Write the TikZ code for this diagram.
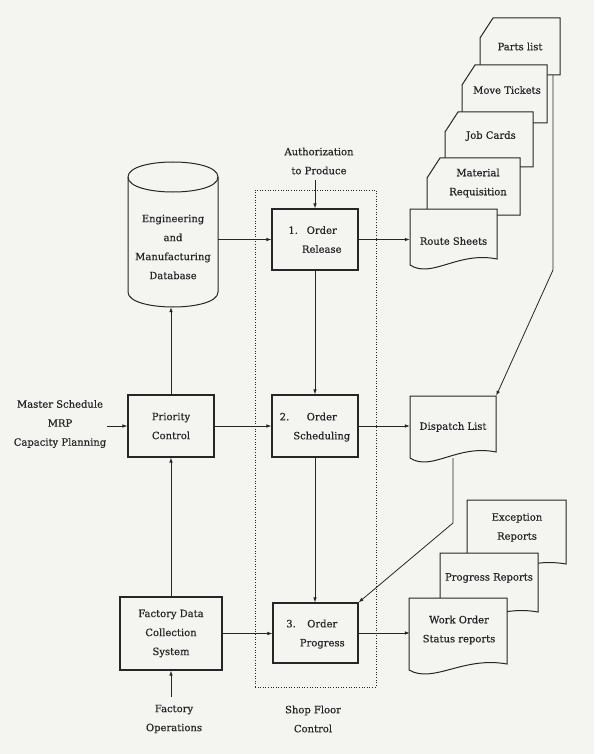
\documentclass[tikz,border=0pt]{standalone}
\usepackage{fontspec}
\setmainfont{DejaVu Serif}[FakeBold=0.5]
\usetikzlibrary{arrows.meta}
\definecolor{bg}{HTML}{F4F4F1}
\definecolor{ink}{HTML}{262626}
\newcommand\mydoc[4]{\path[shapeline] (#1,#2) -- (#3,#2) -- (#3,{#4-6}) .. controls ({#1+0.55*(#3-#1)},{#4-14}) and ({#1+0.25*(#3-#1)},{#4+14}) .. (#1,#4) -- cycle;}
\newcommand\mycard[4]{\path[shapeline] (#1,{#2+20}) -- ({#1+13},#2) -- (#3,#2) -- (#3,#4) -- (#1,#4) -- cycle;}
\newcommand\numtext[3]{#1\hspace{4pt}\begin{tabular}[t]{@{}c@{}}#2\\#3\end{tabular}}
\begin{document}
\begin{tikzpicture}[x=1pt,y=-1pt,
  every node/.style={font=\fontsize{10}{19}\selectfont, text=ink, inner sep=0pt, align=center},
  box/.style={draw=ink, line width=1.1pt, fill=bg, minimum width=86pt, minimum height=62pt},
  txt/.style={draw=none},
  shapeline/.style={draw=ink, line width=1pt, fill=bg},
  frame/.style={draw=ink, line width=0.8pt, dash pattern=on 1pt off 1.6pt, minimum width=121pt, minimum height=497pt},
  conn/.style={draw=ink, line width=0.8pt, -{Latex[length=5pt,width=3.6pt]}}
]
\fill[bg] (0,0) rectangle (594,754);
\useasboundingbox (0,0) rectangle (594,754);

% shop floor control frame
\node[frame] (sfc) at (315.5,438.5) {};

% database cylinder
\path[shapeline] (128,177) -- (128,292) .. controls (128,312) and (218,312) .. (218,292) -- (218,177) .. controls (218,157) and (128,157) .. cycle;
\draw[ink, line width=1pt] (128,177) .. controls (128,197) and (218,197) .. (218,177);
\node[txt, minimum width=90pt, minimum height=120pt] (db) at (173,247) {Engineering\\and\\Manufacturing\\Database};

% main boxes
\node[box, minimum height=61pt] (rel) at (315,239.5) {\numtext{1.}{Order}{Release}};
\node[box] (sch) at (315,426) {\numtext{2.}{Order}{Scheduling}};
\node[box, minimum width=85pt, minimum height=60pt] (prog) at (315.5,633) {\numtext{3.}{Order}{Progress}};
\node[box] (pri) at (171,426) {Priority\\Control};
\node[box, minimum width=102pt, minimum height=73pt] (fdc) at (171,633.5) {Factory Data\\Collection\\System};

% outside labels
\node[txt] (auth) at (319,161) {Authorization\\to Produce};
\node[txt] (ms) at (60,424) {Master Schedule\\MRP\\Capacity Planning};
\node[txt] (fops) at (174,719) {Factory\\Operations};
\node[txt] (sfcl) at (313,719) {Shop Floor\\Control};

% card stack
\mycard{480}{18}{560}{75}
\mycard{462}{65}{547}{123}
\mycard{445}{112}{533}{167}
\mycard{427}{158}{520}{215}
\mydoc{410}{209}{497}{265}
\node[txt, minimum width=80pt, minimum height=57pt] (parts) at (520,46.5) {Parts list};
\node[txt, minimum width=85pt, minimum height=58pt] (move) at (507,90) {Move Tickets};
\node[txt, minimum width=88pt, minimum height=55pt] (job) at (491,136) {Job Cards};
\node[txt, minimum width=93pt, minimum height=55pt] (mat) at (478,183) {Material\\Requisition};
\node[txt, minimum width=87pt, minimum height=54pt] (route) at (453.5,241) {Route Sheets};

% dispatch list
\mydoc{410}{396}{496}{458}
\node[txt, minimum width=86pt, minimum height=62pt] (disp) at (453,427) {Dispatch List};

% report stack
\mydoc{467}{500}{566}{570}
\mydoc{440}{553}{538}{618}
\mydoc{409}{598}{507}{670}
\node[txt, minimum width=99pt, minimum height=56pt] (exc) at (517,527.5) {Exception\\Reports};
\node[txt, minimum width=98pt, minimum height=50pt] (progr) at (489,578) {Progress Reports};
\node[txt, minimum width=98pt, minimum height=72pt] (wo) at (459,630) {Work Order\\Status reports};

% bend points
\coordinate (b1) at (553,270);
\coordinate (b2) at (453,523);

% connectors
\draw[conn] (db.east |- rel.west) -- (rel.west);
\draw[conn, shorten <=5pt] (rel.north |- auth.south) -- (rel.north);
\draw[conn] (rel.east) -- (rel.east -| route.west);
\draw[conn] (rel.south) -- (sch.north);
\draw[conn] (sch.east) -- (sch.east -| disp.west);
\draw[conn] (pri.east) -- (sch.west);
\draw[conn, shorten <=1pt] (ms.east |- pri.west) -- (pri.west);
\draw[conn] (pri.north) -- (pri.north |- db.south);
\draw[conn] (fdc.north) -- (fdc.north |- pri.south);
\draw[conn, shorten <=8pt] (fdc.south |- fops.north) -- (fdc.south);
\draw[conn] (fdc.east) -- (fdc.east -| prog.west);
\draw[conn] (sch.south) -- (sch.south |- prog.north);
\draw[conn] (prog.east) -- (prog.east -| wo.west);
\draw[conn] (disp.south) -- (b2) -- (prog.north east);
\draw[conn] (parts.south east -| b1) -- (b1) -- (disp.north east);
\end{tikzpicture}
\end{document}
